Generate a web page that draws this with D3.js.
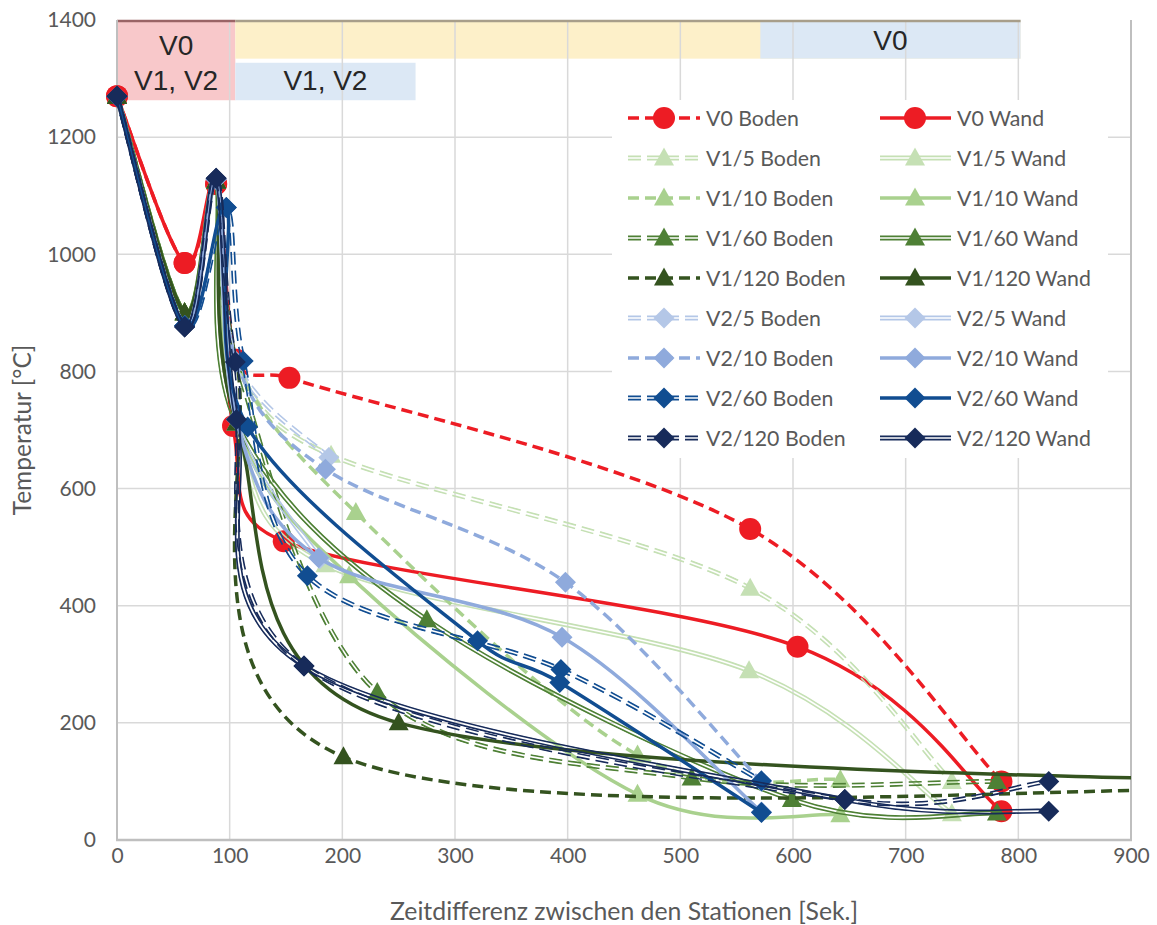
<!DOCTYPE html>
<html><head><meta charset="utf-8">
<script src="https://cdn.jsdelivr.net/npm/d3@7"></script>
<style>
body{margin:0;background:#fff;}
text{font-family:Lato,"Open Sans",sans-serif;}
</style>
</head><body>
<svg id="chart" width="1157" height="925"></svg>
<script>
// ---------------- data ----------------
const xTicks = [0,100,200,300,400,500,600,700,800,900];
const yTicks = [0,200,400,600,800,1000,1200,1400];
const xTitle = "Zeitdifferenz zwischen den Stationen [Sek.]";
const yTitle = "Temperatur [°C]";

// top bands: [x0, x1, yLow, yHigh]
const bandRed    = [0, 105, 1263, 1400];
const bandYellow = [105, 802, 1334, 1400];
const bandBlueV1 = [105, 265, 1263, 1327];
const bandBlueV0 = [571, 802, 1334, 1400];
const bandRedLabels = ["V0", "V1, V2"];
const bandBlueV1Label = "V1, V2";
const bandBlueV0Label = "V0";

const seriesNames = [
  "V0 Boden","V0 Wand","V1/5 Boden","V1/5 Wand","V1/10 Boden","V1/10 Wand",
  "V1/60 Boden","V1/60 Wand","V1/120 Boden","V1/120 Wand",
  "V2/5 Boden","V2/5 Wand","V2/10 Boden","V2/10 Wand",
  "V2/60 Boden","V2/60 Wand","V2/120 Boden","V2/120 Wand"
];

const v0Boden   = [[0,1270],[60,985],[88,1120],[106,820],[153,789],[562,531],[785,100]];
const v0Wand    = [[0,1270],[60,985],[88,1120],[103,707],[148,510],[604,330],[785,49]];
const v1_5Boden = [[0,1270],[60,900],[88,1125],[106,816],[190,657],[562,430],[741,100]];
const v1_5Wand  = [[0,1270],[60,900],[88,1125],[106,712],[185,470],[561,289],[741,45]];
const v1_10Boden= [[0,1270],[60,900],[88,1125],[106,816],[212,559],[462,145],[642,103]];
const v1_10Wand = [[0,1270],[60,900],[88,1125],[106,712],[206,451],[462,78],[642,43]];
const v1_60Boden= [[0,1270],[60,900],[88,1125],[106,816],[231,252],[510,106],[781,100]];
const v1_60Wand = [[0,1270],[60,900],[88,1125],[106,712],[275,376],[599,69],[781,46]];
const v1_120Boden=[[0,1270],[60,900],[88,1125],[106,816],[201,142],[1000,86]];
const v1_120Wand= [[0,1270],[60,900],[88,1125],[106,712],[250,200],[1300,88]];
const v2_5Boden = [[0,1270],[60,878],[88,1128],[106,816],[188,653]];
const v2_5Wand  = [[0,1270],[60,878],[88,1128],[106,718],[180,480]];
const v2_10Boden= [[0,1270],[60,878],[88,1128],[106,816],[185,633],[398,440],[572,100]];
const v2_10Wand = [[0,1270],[60,878],[88,1128],[106,718],[179,482],[395,346],[572,48]];
const v2_60Boden= [[0,1270],[60,878],[97,1080],[112,818],[169,451],[394,291],[572,101]];
const v2_60Wand = [[0,1270],[60,878],[97,1080],[116,705],[320,340],[393,269],[572,47]];
const v2_120Boden=[[0,1270],[60,876],[88,1130],[105,816],[166,297],[646,69],[827,100]];
const v2_120Wand= [[0,1270],[60,876],[88,1130],[106,718],[166,297],[646,69],[827,49]];

const seriesValues = [v0Boden,v0Wand,v1_5Boden,v1_5Wand,v1_10Boden,v1_10Wand,
  v1_60Boden,v1_60Wand,v1_120Boden,v1_120Wand,v2_5Boden,v2_5Wand,v2_10Boden,v2_10Wand,
  v2_60Boden,v2_60Wand,v2_120Boden,v2_120Wand];

// ---------------- styles ----------------
const C = {v0:"#ED1C24", v15:"#C5E0B4", v110:"#A9D18E", v160:"#4E8035", v1120:"#34531F",
           v25:"#B4C7E7", v210:"#8FAADC", v260:"#114D91", v2120:"#172B5A"};
// [color, dashed, double, marker]
const styles = [
  [C.v0,true,false,"circle"],[C.v0,false,false,"circle"],
  [C.v15,true,true,"tri"],[C.v15,false,true,"tri"],
  [C.v110,true,false,"tri"],[C.v110,false,false,"tri"],
  [C.v160,true,true,"tri"],[C.v160,false,true,"tri"],
  [C.v1120,true,false,"tri"],[C.v1120,false,false,"tri"],
  [C.v25,true,true,"dia"],[C.v25,false,true,"dia"],
  [C.v210,true,false,"dia"],[C.v210,false,false,"dia"],
  [C.v260,true,true,"dia"],[C.v260,false,false,"dia"],
  [C.v2120,true,true,"dia"],[C.v2120,false,true,"dia"]
];

const W = 1157, H = 925;
const L = 117, R = 1131, T = 20, B = 840;
const x = d3.scaleLinear().domain([0,900]).range([L,R]);
const y = d3.scaleLinear().domain([0,1400]).range([B,T]);
const svg = d3.select("#chart");
const defs = svg.append("defs");
defs.append("clipPath").attr("id","plotclip").append("rect")
  .attr("x",L).attr("y",T-2).attr("width",R-L).attr("height",B-T+2);

// ---------------- bands ----------------
function band(b, fill){
  svg.append("rect").attr("x",x(b[0])).attr("y",y(b[3])).attr("width",x(b[1])-x(b[0]))
    .attr("height",y(b[2])-y(b[3])).attr("fill",fill);
}
band(bandRed,"#F8C8CA");
band(bandYellow,"#FDF0C9");
band(bandBlueV1,"#DCE8F5");
band(bandBlueV0,"#DCE8F5");

// ---------------- grid ----------------
const grid = svg.append("g");
grid.selectAll("line.v").data(xTicks.slice(1)).join("line")
  .attr("x1",d=>x(d)).attr("x2",d=>x(d)).attr("y1",T).attr("y2",B)
  .attr("stroke","#D9D9D9").attr("stroke-width",1.5);
grid.selectAll("line.h").data(yTicks.slice(1,-1)).join("line")
  .attr("x1",L).attr("x2",R).attr("y1",d=>y(d)).attr("y2",d=>y(d))
  .attr("stroke","#D9D9D9").attr("stroke-width",1.5);
// band top edges
svg.append("line").attr("x1",x(bandRed[0])).attr("x2",x(bandRed[1])).attr("y1",T+1).attr("y2",T+1)
  .attr("stroke","#9A6466").attr("stroke-width",2.5);
svg.append("line").attr("x1",x(bandYellow[0])).attr("x2",x(bandYellow[1])).attr("y1",T+1).attr("y2",T+1)
  .attr("stroke","#A89E8A").attr("stroke-width",2.5);

// band labels
const bf = "'Liberation Sans',Arial,sans-serif";
const bl = svg.append("g").attr("font-size",28).attr("fill","#262626").attr("text-anchor","middle");
const redMid = (x(bandRed[0])+x(bandRed[1]))/2;
bl.append("text").attr("x",redMid).attr("y",y(1400)+35).text(bandRedLabels[0]).style("font-family",bf);
bl.append("text").attr("x",redMid).attr("y",y(1400)+70).text(bandRedLabels[1]).style("font-family",bf);
bl.append("text").attr("x",(x(bandBlueV1[0])+x(bandBlueV1[1]))/2).attr("y",y(1400)+70).text(bandBlueV1Label).style("font-family",bf);
bl.append("text").attr("x",(x(bandBlueV0[0])+x(bandBlueV0[1]))/2).attr("y",y(1400)+30).text(bandBlueV0Label).style("font-family",bf);

// axes lines (left, bottom, right)
svg.append("line").attr("x1",L).attr("x2",L).attr("y1",T).attr("y2",B+1).attr("stroke","#BFBFBF").attr("stroke-width",2);
svg.append("line").attr("x1",L-1).attr("x2",R+1).attr("y1",B).attr("y2",B).attr("stroke","#BFBFBF").attr("stroke-width",2.5);
svg.append("line").attr("x1",R).attr("x2",R).attr("y1",T).attr("y2",B).attr("stroke","#BFBFBF").attr("stroke-width",2);

// tick labels with d3 axes
const ax = svg.append("g").attr("transform",`translate(0,${B})`)
  .call(d3.axisBottom(x).tickValues(xTicks).tickFormat(d3.format("d")).tickSize(0).tickPadding(18));
const ay = svg.append("g").attr("transform",`translate(${L},0)`)
  .call(d3.axisLeft(y).tickValues(yTicks).tickFormat(d3.format("d")).tickSize(0).tickPadding(21));
[ax,ay].forEach(a=>{
  a.select(".domain").remove();
  a.selectAll("text").attr("fill","#595959").attr("font-size",21)
    .style("font-family","Lato,'Open Sans',sans-serif");
});
ax.selectAll("text").attr("dy","0.71em").attr("y",8);

svg.append("text").attr("x",(L+R)/2).attr("y",920).attr("text-anchor","middle")
  .attr("fill","#595959").attr("font-size",24.8).text(xTitle);
svg.append("text").attr("transform",`translate(31,${(T+B)/2}) rotate(-90)`).attr("text-anchor","middle")
  .attr("fill","#595959").attr("font-size",24.5).text(yTitle);

// ---------------- Excel-like smoothing ----------------
function excelPath(p){
  if(p.length<2) return "";
  let d = `M${p[0][0]},${p[0][1]}`;
  const dist=(a,b)=>Math.hypot(b[0]-a[0],b[1]-a[1]);
  for(let i=0;i<p.length-1;i++){
    const P0 = p[i-1]||p[i], P1=p[i], P2=p[i+1], P3=p[i+2]||p[i+1];
    const d02=dist(P0,P2), d12=dist(P1,P2), d13=dist(P1,P3);
    const f = (d02===0 || d02/6 < d12/2) ? 1/6 : d12/(2*d02);
    const g = (d13===0 || d13/6 < d12/2) ? 1/6 : d12/(2*d13);
    const c1=[P1[0]+f*(P2[0]-P0[0]), P1[1]+f*(P2[1]-P0[1])];
    const c2=[P2[0]-g*(P3[0]-P1[0]), P2[1]-g*(P3[1]-P1[1])];
    d += `C${c1[0]},${c1[1]} ${c2[0]},${c2[1]} ${P2[0]},${P2[1]}`;
  }
  return d;
}

const SOLID_W = 3.5, DOUBLE_W = 5, DOUBLE_GAP = 1.7;
let maskId = 0;
function drawLine(g, d, st, clip){
  const [col,dashed,dbl] = st;
  const dash = dashed ? (dbl ? "13,6" : "11,6") : null;
  if(!dbl){
    const pth = g.append("path").attr("d",d).attr("fill","none").attr("stroke",col)
      .attr("stroke-width",SOLID_W).attr("stroke-linejoin","round");
    if(dash) pth.attr("stroke-dasharray",dash);
    if(clip) pth.attr("clip-path","url(#plotclip)");
  } else {
    const id = "m"+(maskId++);
    const m = defs.append("mask").attr("id",id).attr("maskUnits","userSpaceOnUse")
      .attr("x",0).attr("y",0).attr("width",W).attr("height",H);
    m.append("path").attr("d",d).attr("fill","none").attr("stroke","#fff").attr("stroke-width",DOUBLE_W+1);
    m.append("path").attr("d",d).attr("fill","none").attr("stroke","#000").attr("stroke-width",DOUBLE_GAP);
    const wrap = g.append("g");
    if(clip) wrap.attr("clip-path","url(#plotclip)");
    const pth = wrap.append("path").attr("d",d).attr("fill","none").attr("stroke",col)
      .attr("stroke-width",DOUBLE_W).attr("mask",`url(#${id})`);
    if(dash) pth.attr("stroke-dasharray",dash);
  }
}
function drawMarker(g, cx, cy, st){
  const col = st[0], mk = st[3];
  if(mk==="circle"){
    g.append("circle").attr("cx",cx).attr("cy",cy).attr("r",11).attr("fill",col);
  } else if(mk==="tri"){
    const s=10;
    g.append("path").attr("d",`M${cx},${cy-s*1.05}L${cx+s},${cy+s*0.75}L${cx-s},${cy+s*0.75}Z`).attr("fill",col);
  } else {
    const s=10.5;
    g.append("path").attr("d",`M${cx},${cy-s}L${cx+s},${cy}L${cx},${cy+s}L${cx-s},${cy}Z`).attr("fill",col);
  }
}

// ---------------- series ----------------
const plot = svg.append("g");
seriesValues.forEach((vals,i)=>{
  const st = styles[i];
  const pts = vals.map(v=>[x(v[0]),y(v[1])]);
  const g = plot.append("g");
  drawLine(g, excelPath(pts), st, true);
  vals.forEach(v=>{ if(v[0]<=900) drawMarker(g, x(v[0]), y(v[1]), st); });
});

// ---------------- legend ----------------
const leg = svg.append("g");
leg.append("rect").attr("x",612).attr("y",100).attr("width",496).attr("height",358).attr("fill","#fff");
seriesNames.forEach((name,i)=>{
  const col = i%2, row = Math.floor(i/2);
  const ly = 118 + row*40;
  const x1 = col ? 880 : 628, x2 = col ? 951 : 700, mx = col ? 915 : 664, tx = col ? 957 : 706;
  const st = styles[i];
  const g = leg.append("g");
  drawLine(g, `M${x1},${ly}L${x2},${ly}`, st, false);
  drawMarker(g, mx, ly, st);
  g.append("text").attr("x",tx).attr("y",ly).attr("dy","0.36em").attr("font-size",21.3)
    .attr("fill","#595959").text(name);
});
</script>
</body></html>
